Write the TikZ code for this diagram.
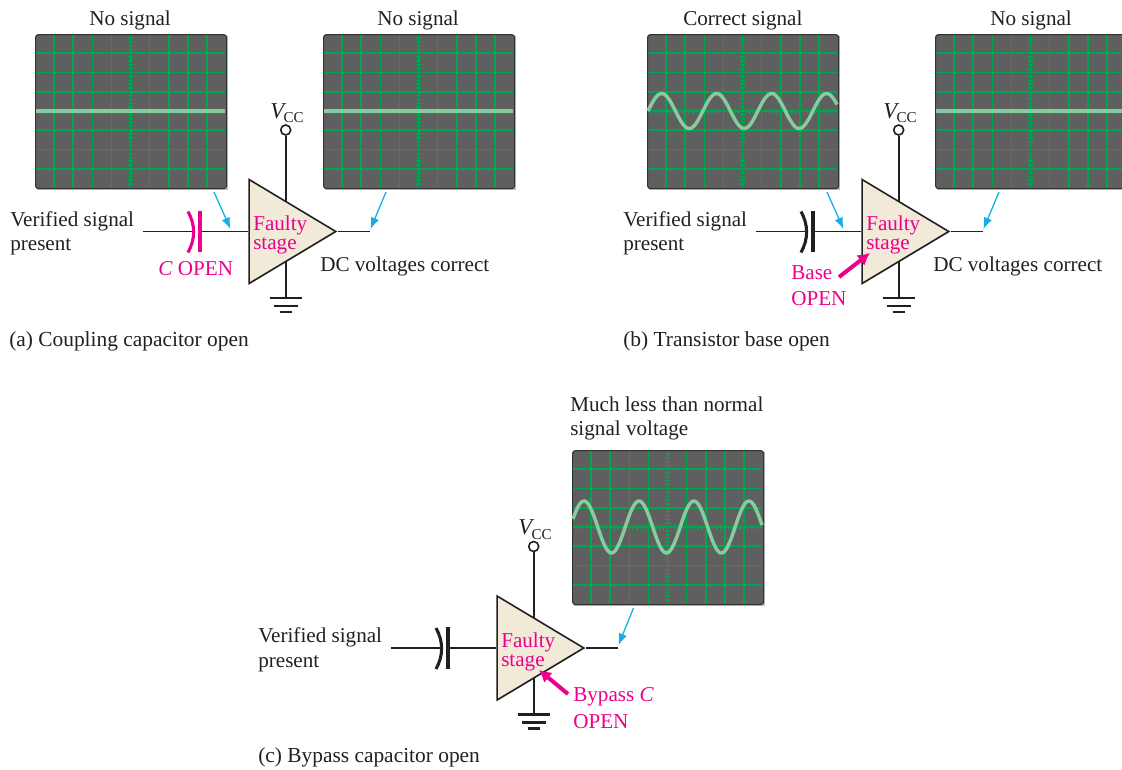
\documentclass[tikz,border=0pt]{standalone}
\usepackage{fontspec}
\setmainfont{Liberation Serif}
\usetikzlibrary{arrows.meta,shapes.geometric}
\definecolor{scopegray}{HTML}{5F5F60}
\definecolor{gridgreen}{HTML}{00A551}
\definecolor{tracegreen}{HTML}{86CC9E}
\definecolor{wirepink}{HTML}{EC008C}
\definecolor{pointerblue}{HTML}{13AEE6}
\definecolor{stagecream}{HTML}{F1EAD8}
\definecolor{inkgray}{HTML}{231F20}
\newcommand{\vcclabel}{\textit{V}\kern-2pt\raisebox{-0.45ex}{\fontsize{11.3}{12}\selectfont CC}}
\tikzset{
  txt/.style={anchor=base west,inner sep=0pt,text=inkgray,font=\fontsize{15.85}{18.75}\selectfont},
  pinktxt/.style={txt,text=wirepink},
  captxt/.style={txt,font=\fontsize{16.05}{18.75}\selectfont},
  wire/.style={draw=inkgray,line width=1.2pt},
  plate/.style={line width=2.3pt},
  gndbar/.style={draw=inkgray,line width=2.1pt},
  gridline/.style={gridgreen,line width=1.2pt},
  tickline/.style={gridgreen,line width=1pt},
  pointer/.style={draw=pointerblue,line width=0.95pt,-{Latex[length=8.5pt,width=6.5pt]}},
  openarrow/.style={draw=wirepink,line width=3pt,-{Latex[length=9pt,width=10pt]}},
  scopebox/.style={draw=black!80,line width=0.9pt,fill=scopegray,rounded corners=2.2pt,minimum width=143.25pt,minimum height=115.5pt,inner sep=0pt,anchor=north west},
  stagebox/.style={isosceles triangle,isosceles triangle stretches,draw=inkgray,fill=stagecream,line width=1.2pt,line join=miter,minimum width=78pt,minimum height=65pt,inner sep=0pt,anchor=west},
  vccdot/.style={circle,draw=inkgray,fill=white,line width=1.2pt,minimum size=7.5pt,inner sep=0pt},
}
\begin{document}
\begin{tikzpicture}[x=0.75pt,y=-0.75pt]
  \useasboundingbox (0,0) rectangle (1122,769);
  % oscilloscope screens
  \foreach \nm/\sx/\sy/\amp/\ph in {aa/35/34/0/0,ab/323/34/0/0,ba/647/34/17.5/14.7,bb/935/34/0/0,ca/572/450/26/12} {
    \begin{scope}[shift={(\sx,\sy)}]
      \fill[black!25] (2,2) rectangle (193,156);
      \node[scopebox] (scope\nm) at (0,0) {};
      \foreach \gx in {19.1,38.2,...,182} \draw[gridline] (\gx,1)--(\gx,153);
      \foreach \gy in {19.25,38.5,...,150} \draw[gridline] (1,\gy)--(190,\gy);
      \foreach \tk in {3.82,7.64,...,190} \draw[tickline] (\tk,74.5)--(\tk,79.5);
      \foreach \tk in {3.85,7.7,...,152} \draw[tickline] (93,\tk)--(98,\tk);
      \draw[tracegreen,line width=2.6pt] plot[domain=1:190,samples=120,smooth] (\x,{77-\amp*cos(6.55*(\x-\ph))});
    \end{scope}
  }
  % the three stages
  \foreach \nm/\sx/\sy/\capcol in {a/0/0/wirepink,b/613/0/inkgray,c/248/416.5/inkgray} {
    \begin{scope}[shift={(\sx,\sy)}]
      \coordinate (in\nm) at (143,231.5);
      \coordinate (out\nm) at (370,231.5);
      \coordinate (gnd\nm) at (285.7,298);
      \coordinate (capl\nm) at (193.5,231.5);
      \coordinate (capr\nm) at (200,231.5);
      \node[vccdot] (vcc\nm) at (285.7,130) {};
      \node[txt,font=\fontsize{17}{18}\selectfont] (vlab\nm) at (270,118) {\vcclabel};
      \draw[wire] (vcc\nm)--(gnd\nm);
      \node[stagebox] (stage\nm) at (248.3,231.5) {};
      \draw[wire] (in\nm)--(capl\nm);
      \draw[wire] (capr\nm)--(stage\nm.west);
      \draw[wire] (stage\nm.apex)--(out\nm);
      \draw[plate,\capcol] (188,211.5) .. controls (195.5,225) and (195.5,239) .. (188,252.5);
      \draw[plate,\capcol] (capr\nm)+(0,-21)--+(0,20.5);
      \draw[gndbar] (gnd\nm)+(-16,0)--+(16,0);
      \draw[gndbar] (gnd\nm)+(-12,8)--+(12,8);
      \draw[gndbar] (gnd\nm)+(-6,14)--+(6,14);
      \node[pinktxt] (fa\nm) at (253,230.7) {Faulty};
      \node[pinktxt] (st\nm) at (253,249.7) {stage};
      \node[txt] (vs\nm) at (10,226) {Verified signal};
      \node[txt] (pr\nm) at (10,250.5) {present};
    \end{scope}
  }
  % labels, part (a)
  \node[txt] (labaa) at (89,25) {No signal};
  \node[txt] (labab) at (377,25) {No signal};
  \node[pinktxt] (capa) at (158,275) {\textit{C} OPEN};
  \node[txt] (dca) at (320,271) {DC voltages correct};
  \node[captxt] (capta) at (9,346) {(a) Coupling capacitor open};
  \coordinate (ptaa) at (214,192);
  \coordinate (ptab) at (230.5,229);
  \coordinate (ptac) at (386,192);
  \coordinate (ptad) at (370.5,229);
  \draw[pointer] (ptaa)--(ptab);
  \draw[pointer] (ptac)--(ptad);
  % labels, part (b)
  \node[txt] (labba) at (683,25) {Correct signal};
  \node[txt] (labbb) at (990,25) {No signal};
  \node[pinktxt] (baseb) at (791,279) {Base};
  \node[pinktxt] (openb) at (791,305) {OPEN};
  \node[txt] (dcb) at (933,271) {DC voltages correct};
  \node[captxt] (captb) at (623,346) {(b) Transistor base open};
  \coordinate (ptba) at (827,192);
  \coordinate (ptbb) at (843.5,229);
  \coordinate (ptbc) at (999,192);
  \coordinate (ptbd) at (983.5,229);
  \coordinate (opbt) at (839,277);
  \coordinate (opbh) at (870,253);
  \draw[pointer] (ptba)--(ptbb);
  \draw[pointer] (ptbc)--(ptbd);
  \draw[openarrow] (opbt)--(opbh);
  % labels, part (c)
  \node[txt] (labca) at (570,411) {Much less than normal};
  \node[txt] (labcb) at (570,435) {signal voltage};
  \node[pinktxt] (bypc) at (573,701.5) {Bypass \textit{C}};
  \node[pinktxt] (openc) at (573,728.5) {OPEN};
  \node[captxt] (captc) at (258,762) {(c) Bypass capacitor open};
  \coordinate (ptca) at (633.5,608);
  \coordinate (ptcb) at (618.5,645);
  \coordinate (opct) at (568,694);
  \coordinate (opch) at (539,670);
  \draw[pointer] (ptca)--(ptcb);
  \draw[openarrow] (opct)--(opch);
\end{tikzpicture}
\end{document}
